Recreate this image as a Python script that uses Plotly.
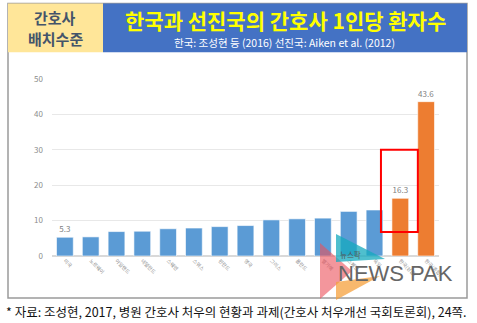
import plotly.graph_objects as go

categories = ["미국", "노르웨이", "아일랜드", "네덜란드", "스웨덴", "스위스", "핀란드", "영국",
              "그리스", "폴란드", "벨기에", "스페인", "독일", "한국(상급)", "한국(종합)"]
values = [5.3, 5.4, 6.9, 7.0, 7.7, 7.9, 8.3, 8.6, 10.2, 10.5, 10.7, 12.6, 13.0, 16.3, 43.6]
shown_labels = ["5.3", "", "", "", "", "", "", "", "", "", "", "", "", "16.3", "43.6"]
bar_colors = ["#5B9BD5"] * 13 + ["#ED7D31"] * 2

W, H = 477, 323
L, R, T, B = 52, 439, 78.7, 256  # plot area in pixels

def px(x):
    return (x - L) / (R - L)

def py(y):
    return (B - y) / (B - T)

FONT = "Noto Sans CJK KR"

fig = go.Figure()
fig.add_trace(go.Bar(
    x=categories, y=values, marker=dict(color=bar_colors, line=dict(color="rgba(255,255,255,0.6)", width=1)),
    text=shown_labels, textposition="outside", cliponaxis=False,
    textfont=dict(size=8, color="#7f7f7f", family=FONT),
))

shapes = [
    dict(type="rect", xref="paper", yref="paper", x0=px(8), x1=px(467), y0=py(298), y1=py(3),
         line=dict(color="#9a9a9a", width=1.5), fillcolor="rgba(0,0,0,0)", layer="below"),
    dict(type="rect", xref="paper", yref="paper", x0=px(8), x1=px(103), y0=py(52), y1=py(3),
         line=dict(width=0), fillcolor="#FFE699"),
    dict(type="rect", xref="paper", yref="paper", x0=px(103), x1=px(467), y0=py(52), y1=py(3),
         line=dict(width=0), fillcolor="#4472C4"),
    dict(type="rect", xref="x", yref="y", x0=12.25, x1=13.68, y0=6.8, y1=30,
         line=dict(color="#FF0000", width=2), fillcolor="rgba(0,0,0,0)"),
    dict(type="path", xref="paper", yref="paper",
         path=f"M {px(320)},{py(243)} L {px(320)},{py(299)} L {px(352)},{py(271)} Z",
         fillcolor="rgba(235,80,90,0.6)", line=dict(width=0)),
    dict(type="path", xref="paper", yref="paper",
         path=f"M {px(336)},{py(234)} L {px(336)},{py(262)} L {px(385)},{py(259)} Z",
         fillcolor="rgba(20,170,190,0.75)", line=dict(width=0)),
    dict(type="path", xref="paper", yref="paper",
         path=f"M {px(336)},{py(300)} L {px(336)},{py(282)} L {px(380)},{py(276)} Z",
         fillcolor="rgba(245,160,60,0.75)", line=dict(width=0)),
]

def ann(text, x, y, size, color, xanchor="center", family=FONT, bold=False):
    f = dict(size=size, color=color, family=family)
    if bold:
        f["weight"] = "bold"
    return dict(text=text, x=px(x), y=py(y), xref="paper", yref="paper", showarrow=False,
                xanchor=xanchor, yanchor="middle", font=f)

annotations = [
    ann("간호사", 55, 17, 15, "#44546A", bold=True),
    ann("배치수준", 55, 38, 15, "#44546A", bold=True),
    ann("한국과 선진국의 간호사 1인당 환자수", 285, 20, 21, "#FFFF00", bold=True),
    ann("한국: 조성현 등 (2016) 선진국: Aiken et al. (2012)", 284, 42, 10.5, "#FFFFFF"),
    ann("* 자료: 조성현, 2017, 병원 간호사 처우의 현황과 과제(간호사 처우개선 국회토론회), 24쪽.",
        4, 312, 12.5, "#111111", xanchor="left"),
    ann("뉴스팍", 338, 254, 7.5, "#555555", xanchor="left"),
    ann("NEWS PAK", 336, 274, 22, "#666666", xanchor="left", family="Liberation Sans"),
]

fig.update_layout(
    width=W, height=H, margin=dict(l=L, r=W - R, t=T, b=H - B, pad=0),
    paper_bgcolor="white", plot_bgcolor="white", showlegend=False,
    bargap=0.35, shapes=shapes, annotations=annotations,
    font=dict(family=FONT),
)
fig.update_yaxes(range=[0, 50], dtick=10, showgrid=True, gridcolor="#e8e8e8", gridwidth=1,
                 zeroline=True, zerolinecolor="#d9d9d9", ticks="", ticklabelstandoff=8,
                 tickfont=dict(size=8, color="#8c8c8c", family=FONT))
fig.update_xaxes(tickangle=45, tickfont=dict(size=5, color="#8c8c8c", family=FONT),
                 showline=False, ticks="")

fig.write_html("out.html")
